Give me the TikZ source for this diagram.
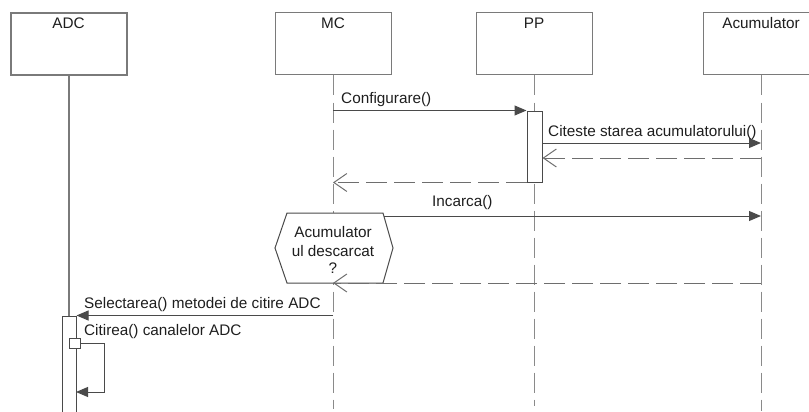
\documentclass[tikz,border=0pt]{standalone}
\usepackage{fontspec}
\setmainfont{Liberation Sans}
\usetikzlibrary{arrows.meta}
\definecolor{boxgray}{HTML}{7A7A7A}
\definecolor{linegray}{HTML}{4A4A4A}
\definecolor{lifegray}{HTML}{8A8A8A}
\definecolor{retgray}{HTML}{6E6E6E}
\definecolor{txt}{HTML}{1E1E1E}
\begin{document}
\begin{tikzpicture}[x=1pt,y=-1pt,
  font=\fontsize{15.3}{18}\selectfont, text=txt,
  obj/.style={draw=boxgray, fill=white, line width=1pt, minimum width=116pt, minimum height=62pt, inner sep=0pt},
  lifeline/.style={draw=lifegray, line width=1pt, dash pattern=on 20pt off 7pt},
  msg/.style={draw=linegray, line width=1pt, -{Triangle[length=12pt,width=10pt]}},
  ret/.style={draw=retgray, line width=1pt, dash pattern=on 21pt off 7pt, -{Straight Barb[length=13pt,width=18pt]}},
  act/.style={draw=linegray, fill=white, line width=1pt, inner sep=0pt},
  lbl/.style={anchor=base west, inner sep=0pt},
  ttl/.style={anchor=base, inner sep=0pt}]
\useasboundingbox (0,0) rectangle (809,412);
\clip (0,0) rectangle (809,412);

% objects
\node[obj, line width=2pt] (adc) at (68.5,44) {};
\node[obj] (mc) at (333,44) {};
\node[obj] (pp) at (534,44) {};
\node[obj] (acc) at (761,44) {};
\node[ttl] (adct) at (adc.center |- 0,29) {ADC};
\node[ttl] (mct) at (mc.center |- 0,29) {MC};
\node[ttl] (ppt) at (pp.center |- 0,29) {PP};
\node[ttl] (acct) at (acc.center |- 0,29) {Acumulator};

% lifelines
\draw[draw=boxgray, line width=2pt] (adc.south) -- ++(0,345);
\draw[lifeline] (mc.south) -- ++(0,333);
\draw[lifeline] (pp.south) -- ++(0,330);
\draw[lifeline] (acc.south) -- ++(0,335);

% activations
\node[act, minimum width=15pt, minimum height=71pt] (ppact) at (534.5,146.5) {};
\node[act, minimum width=14pt, minimum height=110pt] (adcact) at (69,371) {};

% decision hexagon
\draw[draw=linegray, fill=white, line width=1pt]
  (275,248) -- (287,213) -- (383,213) -- (393,248) -- (383,283) -- (287,283) -- cycle;
\coordinate (hexR) at (384,216);
\coordinate (hexB) at (333,283);
\node[ttl] (hex1) at (333,237) {Acumulator};
\node[ttl] (hex2) at (333,256) {ul descarcat};
\node[ttl] (hex3) at (333,273) {?};

% y levels
\coordinate (y2) at (0,143);
\coordinate (y3) at (0,158);

% messages
\draw[msg] (mc.south |- ppact.north) -- (ppact.north west);
\node[lbl] (l1) at (341,103) {Configurare()};
\draw[msg] (ppact.east |- y2) -- (acc.south |- y2);
\node[lbl] (l2) at (548,136) {Citeste starea acumulatorului()};
\draw[ret] (acc.south |- y3) -- (ppact.east |- y3);
\draw[ret] (ppact.south west) -- (mc.south |- ppact.south);
\draw[msg] (hexR) -- (acc.south |- hexR);
\node[lbl] (l3) at (432,206) {Incarca()};
\draw[ret] (acc.south |- hexB) -- (hexB);
\draw[msg] (mc.south |- adcact.north) -- (adcact.north east);
\node[lbl] (l4) at (84,308) {Selectarea() metodei de citire ADC};

% self call
\node[draw=linegray, fill=white, line width=1pt, minimum width=11pt, minimum height=10pt, inner sep=0pt] (sq) at (75,343) {};
\coordinate (loopend) at (76,392);
\draw[msg] (sq.east) -- ++(23,0) |- (loopend);
\node[lbl] (l5) at (84,335) {Citirea() canalelor ADC};
\end{tikzpicture}
\end{document}
